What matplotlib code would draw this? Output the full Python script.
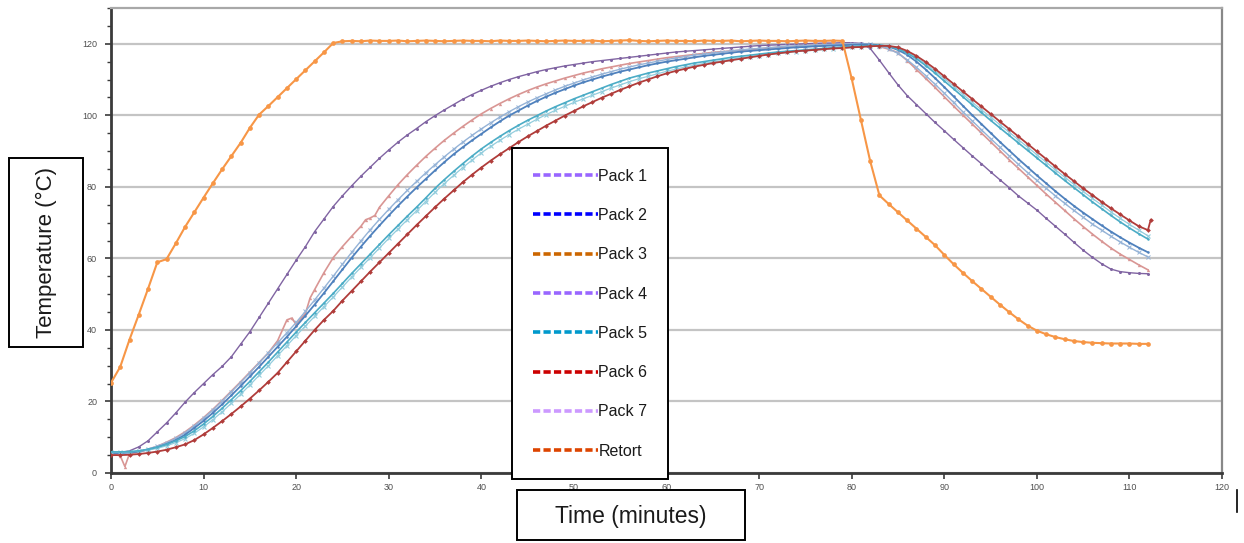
import numpy as np
import matplotlib
matplotlib.use("Agg")
import matplotlib.pyplot as plt
from matplotlib.lines import Line2D
from matplotlib.patches import Rectangle
from matplotlib.ticker import MultipleLocator

plt.rcParams['font.family'] = ['Liberation Sans', 'DejaVu Sans']

# ---- logged temperatures (°C), one reading per minute, 0..112 min ----
minutes = list(range(0, 113))

pack1 = [5.6, 5.7, 6.2, 7.3, 9.0, 11.5, 14.0, 16.8, 19.8, 22.5,
         25.0, 27.5, 29.8, 32.5, 36.0, 39.5, 43.5, 47.5, 51.5, 55.5,
         59.5, 63.3, 67.5, 71.0, 74.5, 77.5, 80.3, 83.0, 85.5, 88.0,
         90.3, 92.5, 94.5, 96.3, 98.2, 99.9, 101.5, 103.0, 104.5, 105.8,
         107.0, 108.1, 109.1, 110.0, 110.8, 111.5, 112.2, 112.8, 113.3, 113.8,
         114.2, 114.6, 115.0, 115.3, 115.6, 115.9, 116.2, 116.5, 116.8, 117.1,
         117.4, 117.7, 117.9, 118.1, 118.3, 118.5, 118.7, 118.9, 119.1, 119.3,
         119.5, 119.6, 119.7, 119.8, 119.9, 120.0, 120.1, 120.2, 120.2, 120.3,
         120.3, 120.1, 118.7, 115.4, 111.9, 108.5, 105.5, 103.0, 100.5, 98.0,
         95.7, 93.3, 91.0, 88.7, 86.5, 84.2, 82.0, 79.8, 77.5, 75.5,
         73.5, 71.2, 69.0, 66.8, 64.5, 62.3, 60.3, 58.5, 57.0, 56.3,
         56.0, 55.8, 55.7]

pack2 = [5.6, 5.6, 5.7, 6.0, 6.5, 7.2, 8.1, 9.2, 10.7, 12.6,
         14.6, 16.8, 19.2, 21.7, 24.3, 27.0, 29.7, 32.5, 35.3, 38.1,
         41.0, 44.0, 47.1, 50.3, 53.6, 56.9, 60.2, 63.3, 66.3, 69.2,
         72.0, 74.7, 77.3, 79.8, 82.2, 84.6, 86.9, 89.1, 91.1, 93.0,
         94.8, 96.6, 98.3, 99.9, 101.3, 102.7, 104.0, 105.2, 106.3, 107.3,
         108.3, 109.2, 110.0, 110.8, 111.5, 112.2, 112.8, 113.4, 114.0, 114.5,
         115.0, 115.4, 115.8, 116.2, 116.6, 116.9, 117.2, 117.5, 117.8, 118.0,
         118.2, 118.4, 118.6, 118.8, 119.0, 119.1, 119.3, 119.4, 119.5, 119.6,
         119.7, 119.8, 119.8, 119.6, 119.2, 118.3, 116.9, 115.0, 112.8, 110.4,
         107.9, 105.3, 102.7, 100.1, 97.6, 95.1, 92.6, 90.2, 87.8, 85.5,
         83.2, 81.0, 78.8, 76.7, 74.7, 72.8, 71.0, 69.2, 67.5, 65.9,
         64.4, 63.0, 61.7]

pack3 = [5.5, 4.8, 5.4, 5.9, 6.6, 7.5, 8.6, 9.9, 11.5, 13.4,
         15.5, 17.8, 20.3, 22.9, 25.5, 28.2, 30.9, 33.6, 37.0, 42.8,
         41.6, 44.6, 51.3, 56.0, 60.2, 63.3, 66.2, 69.0, 71.3, 74.3,
         77.5, 80.6, 83.4, 86.0, 88.5, 90.8, 93.0, 95.0, 96.9, 98.7,
         100.4, 101.9, 103.3, 104.6, 105.8, 106.9, 107.9, 108.8, 109.6, 110.4,
         111.1, 111.8, 112.4, 113.0, 113.5, 114.0, 114.5, 114.9, 115.3, 115.7,
         116.1, 116.4, 116.7, 117.0, 117.3, 117.6, 117.8, 118.0, 118.2, 118.4,
         118.6, 118.8, 119.0, 119.2, 119.3, 119.4, 119.5, 119.6, 119.7, 119.8,
         119.9, 119.9, 119.7, 119.2, 118.5, 117.5, 115.3, 112.8, 110.3, 107.8,
         105.2, 102.6, 100.1, 97.6, 95.1, 92.6, 90.1, 87.6, 85.2, 82.8,
         80.4, 78.0, 75.7, 73.4, 71.1, 68.9, 66.8, 64.8, 62.9, 61.2,
         59.7, 58.2, 56.8]
# probe glitches logged between the whole-minute readings
pack3_extra_minutes = [1.5, 19.5, 21.5, 27.5, 28.5]
pack3_extra = [1.8, 43.3, 48.9, 70.8, 72.0]

pack4 = [5.6, 5.6, 5.8, 6.1, 6.7, 7.5, 8.5, 9.7, 11.3, 13.2,
         15.3, 17.6, 20.1, 22.7, 25.3, 28.0, 30.8, 33.6, 36.4, 39.2,
         42.1, 45.2, 48.4, 51.7, 55.0, 58.4, 61.7, 64.9, 68.0, 70.9,
         73.7, 76.4, 79.0, 81.5, 83.9, 86.2, 88.4, 90.5, 92.5, 94.4,
         96.2, 97.9, 99.5, 101.0, 102.4, 103.7, 104.9, 106.0, 107.1, 108.1,
         109.0, 109.9, 110.7, 111.5, 112.2, 112.9, 113.5, 114.1, 114.6, 115.1,
         115.6, 116.0, 116.4, 116.8, 117.1, 117.4, 117.7, 118.0, 118.3, 118.5,
         118.7, 118.9, 119.1, 119.3, 119.4, 119.5, 119.6, 119.7, 119.8, 119.9,
         120.0, 120.0, 119.9, 119.5, 118.6, 117.3, 115.5, 113.4, 111.1, 108.7,
         106.2, 103.6, 101.0, 98.5, 96.0, 93.5, 91.1, 88.7, 86.3, 84.0,
         81.8, 79.6, 77.5, 75.4, 73.4, 71.5, 69.6, 67.9, 66.2, 64.6,
         63.1, 61.7, 60.4]

pack5 = [5.9, 5.9, 6.0, 6.2, 6.6, 7.2, 8.0, 9.0, 10.2, 11.8,
         13.7, 15.8, 18.1, 20.5, 23.0, 25.6, 28.3, 31.0, 33.8, 36.6,
         39.4, 42.1, 44.8, 47.5, 50.2, 53.0, 55.8, 58.5, 61.2, 63.9,
         66.6, 69.2, 71.8, 74.3, 76.9, 79.6, 82.0, 84.3, 86.5, 88.6,
         90.6, 92.4, 94.1, 95.7, 97.2, 98.6, 99.9, 101.2, 102.4, 103.5,
         104.6, 105.6, 106.6, 107.6, 108.6, 109.5, 110.4, 111.1, 111.8, 112.4,
         113.0, 113.6, 114.1, 114.6, 115.0, 115.4, 115.8, 116.2, 116.5, 116.8,
         117.1, 117.4, 117.7, 117.9, 118.1, 118.3, 118.5, 118.7, 118.9, 119.1,
         119.2, 119.4, 119.5, 119.6, 119.3, 118.6, 117.4, 115.8, 113.9, 111.8,
         109.6, 107.4, 105.2, 103.0, 100.8, 98.6, 96.5, 94.4, 92.3, 90.2,
         88.1, 86.0, 83.9, 81.8, 79.8, 77.8, 75.8, 73.9, 72.0, 70.2,
         68.5, 66.9, 65.4]

pack6 = [5.0, 5.0, 5.1, 5.3, 5.6, 6.0, 6.5, 7.2, 8.0, 9.2,
         10.8, 12.6, 14.5, 16.5, 18.6, 20.8, 23.1, 25.5, 28.0, 31.0,
         34.0, 37.0, 40.0, 42.8, 45.3, 48.2, 50.9, 53.6, 56.3, 58.9,
         61.5, 64.1, 66.7, 69.3, 71.8, 74.3, 76.7, 79.0, 81.3, 83.4,
         85.4, 87.3, 89.1, 90.8, 92.5, 94.1, 95.6, 97.1, 98.5, 99.9,
         101.2, 102.5, 103.7, 104.9, 106.0, 107.1, 108.1, 109.1, 110.0, 110.9,
         111.7, 112.4, 113.0, 113.6, 114.1, 114.6, 115.0, 115.4, 115.8, 116.2,
         116.6, 117.0, 117.3, 117.6, 117.9, 118.1, 118.3, 118.5, 118.7, 118.8,
         119.0, 119.1, 119.3, 119.4, 119.4, 119.0, 118.0, 116.6, 114.9, 113.0,
         110.9, 108.8, 106.7, 104.6, 102.5, 100.4, 98.3, 96.2, 94.1, 92.0,
         89.9, 87.8, 85.7, 83.6, 81.6, 79.6, 77.7, 75.8, 74.0, 72.3,
         70.6, 69.0, 67.9]
# last reading taken after the pack was pulled
pack6_extra_minutes = [112.3]
pack6_extra = [70.8]

pack7 = [5.8, 5.8, 5.9, 6.1, 6.4, 6.9, 7.6, 8.5, 9.6, 11.1,
         12.9, 14.9, 17.1, 19.5, 22.0, 24.6, 27.3, 30.0, 32.8, 35.6,
         38.4, 41.1, 43.8, 46.5, 49.2, 52.0, 54.8, 57.5, 60.2, 62.9,
         65.6, 68.2, 70.8, 73.3, 75.9, 78.5, 80.9, 83.2, 85.4, 87.5,
         89.5, 91.3, 93.0, 94.6, 96.1, 97.5, 98.9, 100.2, 101.4, 102.5,
         103.6, 104.6, 105.6, 106.6, 107.6, 108.5, 109.4, 110.2, 110.9, 111.6,
         112.3, 112.9, 113.5, 114.0, 114.5, 114.9, 115.3, 115.7, 116.1, 116.4,
         116.7, 117.0, 117.3, 117.6, 117.8, 118.0, 118.2, 118.4, 118.6, 118.8,
         119.0, 119.2, 119.3, 119.4, 119.3, 118.8, 117.7, 116.2, 114.4, 112.4,
         110.3, 108.1, 105.9, 103.7, 101.6, 99.5, 97.4, 95.3, 93.2, 91.1,
         89.0, 86.9, 84.8, 82.7, 80.7, 78.7, 76.8, 74.9, 73.0, 71.2,
         69.5, 67.9, 66.3]

retort = [25.2, 29.7, 37.3, 44.3, 51.5, 58.9, 59.8, 64.2, 68.8, 72.9,
          77.0, 81.0, 84.9, 88.6, 92.3, 96.5, 100.2, 102.6, 105.1, 107.6,
          110.1, 112.6, 115.1, 117.6, 120.2, 120.7, 120.8, 120.7, 120.9, 120.8,
          120.8, 120.9, 120.7, 120.8, 120.9, 120.8, 120.7, 120.8, 120.9, 120.8,
          120.8, 120.7, 120.9, 120.8, 120.8, 120.9, 120.8, 120.7, 120.8, 120.9,
          120.8, 120.8, 120.9, 120.7, 120.8, 120.9, 121.0, 120.8, 120.7, 120.8,
          120.9, 120.8, 120.8, 120.7, 120.9, 120.8, 120.8, 120.9, 120.7, 120.8,
          120.9, 120.8, 120.8, 120.7, 120.8, 120.9, 120.8, 120.8, 120.9, 120.8,
          110.3, 98.7, 87.2, 77.6, 75.2, 72.9, 70.6, 68.3, 66.0, 63.7,
          61.0, 58.4, 56.0, 53.7, 51.5, 49.3, 47.1, 45.0, 43.0, 41.2,
          39.8, 38.8, 38.0, 37.4, 36.9, 36.6, 36.4, 36.3, 36.2, 36.2,
          36.2, 36.1, 36.1]

legend_labels = ["Pack 1", "Pack 2", "Pack 3", "Pack 4",
                 "Pack 5", "Pack 6", "Pack 7", "Retort"]
legend_colors = ["#9966FF", "#0000FF", "#CC6600", "#9966FF",
                 "#0099CC", "#CC0000", "#CC99FF", "#DD4400"]


def merged(base_t, base_v, extra_t, extra_v):
    t = np.concatenate([np.asarray(base_t, float), np.asarray(extra_t, float)])
    v = np.concatenate([np.asarray(base_v, float), np.asarray(extra_v, float)])
    order = np.argsort(t, kind="stable")
    return t[order], v[order]


W, H = 1244, 543
fig = plt.figure(figsize=(W / 100, H / 100), dpi=100)
ax = fig.add_axes([111 / W, 1 - 473 / H, 1111 / W, 465 / H])

ax.set_xlim(0, 120)
ax.set_ylim(0, 130)

ax.yaxis.set_major_locator(MultipleLocator(20))
ax.yaxis.set_minor_locator(MultipleLocator(5))
ax.xaxis.set_major_locator(MultipleLocator(10))
ax.set_yticks([0, 20, 40, 60, 80, 100, 120])
ax.grid(axis='y', which='major', color='#C4C4C4', linewidth=1.6, zorder=0)
ax.set_axisbelow(True)

for s in ('left', 'bottom'):
    ax.spines[s].set_color('#3A3A3A')
    ax.spines[s].set_linewidth(2.0)
ax.spines['top'].set_color('#A8A8A8')
ax.spines['top'].set_linewidth(1.6)
ax.spines['right'].set_color('#888888')
ax.spines['right'].set_linewidth(1.6)

ax.tick_params(axis='both', which='major', direction='out', length=4,
               width=1.2, color='#3A3A3A', labelsize=6.5,
               labelcolor='#505050')
ax.tick_params(axis='y', which='minor', direction='out', length=3,
               width=1.0, color='#3A3A3A')
ax.tick_params(axis='y', which='major', pad=6)
ax.tick_params(axis='x', which='major', pad=3)

# pack temperature traces
t3, v3 = merged(minutes, pack3, pack3_extra_minutes, pack3_extra)
t6, v6 = merged(minutes, pack6, pack6_extra_minutes, pack6_extra)

ax.plot(minutes, pack1, color='#8064A2', lw=1.0, marker='o', ms=2.2,
        mew=0, zorder=3)
ax.plot(t3, v3, color='#D99694', lw=1.2, marker='^', ms=2.4, mew=0,
        zorder=3)
ax.plot(minutes, pack4, color='#95B3D7', lw=1.0, marker='x', ms=2.4,
        mew=0.7, zorder=3)
ax.plot(minutes, pack2, color='#4F81BD', lw=1.3, marker='o', ms=1.8,
        mew=0, zorder=3)
ax.plot(minutes, pack7, color='#93CDDD', lw=0.9, marker='x', ms=3.2,
        mew=0.8, zorder=3)
ax.plot(minutes, pack5, color='#4BACC6', lw=1.2, marker='o', ms=1.8,
        mew=0, zorder=3)
ax.plot(t6, v6, color='#B03C3A', lw=1.3, marker='D', ms=2.4, mew=0,
        zorder=3)
ax.plot(minutes, retort, color='#F79646', lw=1.5, marker='o', ms=3.4,
        mew=0, zorder=4)

# legend
handles = [Line2D([], [], color=c, lw=2.6, linestyle=(0, (2.0, 0.9)))
           for c in legend_colors]
leg = fig.legend(handles, legend_labels, loc='upper left',
                 bbox_to_anchor=(512 / W, 1 - 148 / H),
                 bbox_transform=fig.transFigure, borderaxespad=0,
                 fontsize=11.5, frameon=True, fancybox=False,
                 borderpad=1.3, labelspacing=1.52, handlelength=4.1,
                 handletextpad=0.0)
leg.get_frame().set_edgecolor('black')
leg.get_frame().set_linewidth(1.4)
leg.get_frame().set_facecolor('white')
leg.get_frame().set_alpha(1)
for txt in leg.get_texts():
    txt.set_color('#1A1A1A')

# boxed axis titles
fig.add_artist(Rectangle((9 / W, 1 - 347 / H), 74 / W, 189 / H,
                         transform=fig.transFigure, fill=True,
                         facecolor='white', edgecolor='black', lw=1.4))
fig.text(46 / W, 1 - 252.5 / H, "Temperature (°C)", rotation=90,
         ha='center', va='center', fontsize=16, color='#1A1A1A')

fig.add_artist(Rectangle((517 / W, 1 - 540 / H), 228 / W, 50 / H,
                         transform=fig.transFigure, fill=True,
                         facecolor='white', edgecolor='black', lw=1.4))
fig.text(631 / W, 1 - 516 / H, "Time (minutes)", ha='center', va='center',
         fontsize=16.5, color='#1A1A1A')

fig.add_artist(Line2D([1237 / W, 1237 / W], [1 - 512 / H, 1 - 490 / H],
                      transform=fig.transFigure, color='black', lw=1.2))

fig.savefig("out.png", dpi=100)
